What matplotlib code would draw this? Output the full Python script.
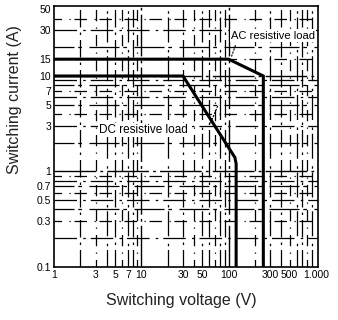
import matplotlib
matplotlib.use("Agg")
import matplotlib.pyplot as plt
from matplotlib.ticker import FixedLocator, FixedFormatter, NullFormatter

plt.rcParams['font.family'] = ['Liberation Sans', 'DejaVu Sans']

# load limit curves
ac_v = [1, 100, 250, 250]
ac_i = [15, 15, 10, 0.1]
dc_v = [1, 30, 118, 122, 122]
dc_i = [10, 10, 1.4, 1.2, 0.1]

x_ticks = [1, 3, 5, 7, 10, 30, 50, 100, 300, 500, 1000]
x_labels = ['1', '3', '5', '7', '10', '30', '50', '100', '300', '500', '1.000']
y_ticks = [0.1, 0.3, 0.5, 0.7, 1, 3, 5, 7, 10, 15, 30, 50]
y_labels = ['0.1', '0.3', '0.5', '0.7', '1', '3', '5', '7', '10', '15', '30', '50']

fig = plt.figure(figsize=(3.38, 3.2), dpi=100)
ax = fig.add_axes([0.16, 0.166, 0.78, 0.815])
ax.set_xscale('log')
ax.set_yscale('log')
ax.set_xlim(1, 1050)
ax.set_ylim(0.1, 54)

# grid lines of the chart paper, broken up like a scanned sheet
minor_x = [2, 3, 4, 5, 6, 7, 8, 9, 20, 30, 40, 50, 60, 70, 80, 90,
           200, 300, 400, 500, 600, 700, 800, 900]
minor_y = [0.2, 0.3, 0.4, 0.5, 0.6, 0.7, 0.8, 0.9, 2, 3, 4, 5, 6, 7, 8, 9,
           15, 20, 30, 40]
dash_x = [(0, (14, 4, 2, 4)), (3, (9, 5, 1, 5)), (6, (20, 3, 2, 6))]
dash_y = [(0, (18, 5, 2, 4)), (4, (10, 6, 1, 3)), (8, (24, 3, 3, 6))]
for k, v in enumerate(minor_x):
    ax.axvline(v, color='black', lw=0.9, ls=dash_x[k % 3], zorder=1)
for v in [10, 100]:
    ax.axvline(v, color='black', lw=1.0, ls=(0, (30, 3, 2, 3)), zorder=1)
for k, v in enumerate(minor_y):
    ax.axhline(v, color='black', lw=0.9, ls=dash_y[k % 3], zorder=1)
for v in [1, 10]:
    ax.axhline(v, color='black', lw=1.0, ls=(0, (30, 3, 2, 3)), zorder=1)

ax.plot(ac_v, ac_i, color='black', lw=2.2, zorder=3, solid_joinstyle='miter')
ax.plot(dc_v, dc_i, color='black', lw=2.2, zorder=3, solid_joinstyle='miter')

box = dict(boxstyle='square,pad=0.1', fc='white', ec='none')
ax.text(106, 26.5, 'AC resistive load', fontsize=8, bbox=box, zorder=4,
        va='center')
ax.plot([120, 108], [21, 16], color='black', lw=0.8, ls=(0, (2, 1)), zorder=4)
ax.text(3.3, 2.7, 'DC resistive load', fontsize=8.5, bbox=box, zorder=4,
        va='center')
ax.plot([62, 76], [3.2, 5.0], color='black', lw=0.8, ls=(0, (2, 1)), zorder=4)

ax.xaxis.set_major_locator(FixedLocator(x_ticks))
ax.xaxis.set_major_formatter(FixedFormatter(x_labels))
ax.xaxis.set_minor_formatter(NullFormatter())
ax.yaxis.set_major_locator(FixedLocator(y_ticks))
ax.yaxis.set_major_formatter(FixedFormatter(y_labels))
ax.yaxis.set_minor_formatter(NullFormatter())
ax.tick_params(which='both', length=0, labelsize=7.5, pad=2)

for s in ax.spines.values():
    s.set_linewidth(1.2)

fig.text(0.536, 0.0625, 'Switching voltage (V)', fontsize=11.5,
         color='#222222', ha='center', va='center')
fig.text(0.042, 0.69, 'Switching current (A)', fontsize=11.5,
         color='#222222', ha='center', va='center', rotation=90)

fig.savefig('out.png', dpi=100)
